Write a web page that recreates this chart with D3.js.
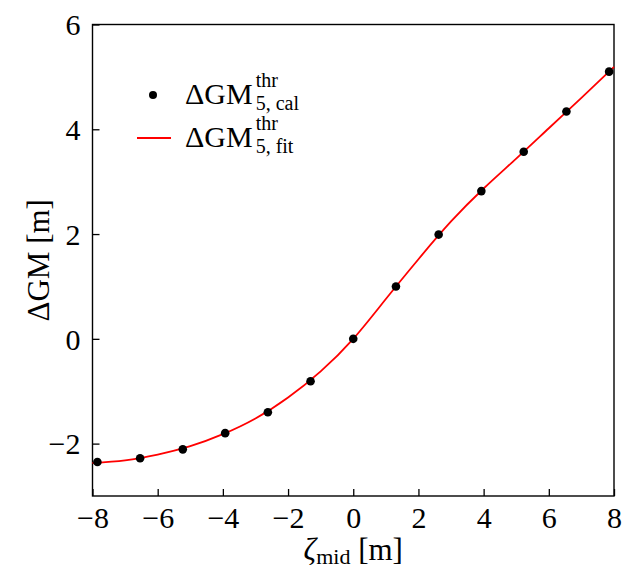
<!DOCTYPE html>
<html>
<head>
<meta charset="utf-8">
<script src="https://cdn.jsdelivr.net/npm/d3@7"></script>
<style>
  body { margin: 0; background: #fff; }
  svg { display: block; font-family: "Liberation Serif", "DejaVu Serif", serif; }
</style>
</head>
<body>
<svg id="chart" width="622" height="573"></svg>
<script>
// calculated points (zeta_mid, dGM)
const zetaCal = [-7.85, -6.54, -5.23, -3.93, -2.62, -1.31, 0, 1.31, 2.62, 3.93, 5.23, 6.54, 7.85]
const gmCal = [-2.35, -2.28, -2.11, -1.80, -1.40, -0.81, 0.0, 1.0, 1.99, 2.82, 3.57, 4.34, 5.10]

const zetaFit = [-8, -7, -6, -5, -4, -3, -2, -1, 0, 1, 2, 3, 4, 5, 6, 7, 8]
const gmFit = [-2.37, -2.32, -2.21, -2.05, -1.82, -1.52, -1.12, -0.62, 0.0, 0.76, 1.52, 2.24, 2.87, 3.44, 4.02, 4.60, 5.19]

const xTicks = [-8, -6, -4, -2, 0, 2, 4, 6, 8]
const yTicks = [-2, 0, 2, 4, 6]

const svg = d3.select('#chart')
const margin = { left: 92.5, right: 8, top: 24.5, bottom: 77 }
const W = 622, H = 573
const FONT = '"Liberation Serif", "DejaVu Serif", serif'

const x = d3.scaleLinear().domain([-8, 8]).range([margin.left, W - margin.right])
const y = d3.scaleLinear().domain([-3, 6]).range([H - margin.bottom, margin.top])

const fmt = d => (d < 0 ? '\u2212' + Math.abs(d) : '' + d)

// axes, ticks inward
const xAxis = svg.append('g')
  .attr('transform', 'translate(0,' + y(-3) + ')')
  .call(d3.axisBottom(x).tickValues(xTicks).tickSizeInner(-7).tickSizeOuter(0).tickPadding(10).tickFormat(fmt))
const yAxis = svg.append('g')
  .attr('transform', 'translate(' + x(-8) + ',0)')
  .call(d3.axisLeft(y).tickValues(yTicks).tickSizeInner(-7).tickSizeOuter(0).tickPadding(12).tickFormat(fmt))

for (const g of [xAxis, yAxis]) {
  g.attr('font-family', FONT).attr('font-size', 30)
  g.select('.domain').remove()
  g.selectAll('line').attr('stroke', '#000').attr('stroke-width', 1.3)
  g.selectAll('text').attr('fill', '#000')
}
xAxis.selectAll('text').attr('dy', '0.72em')
yAxis.selectAll('text').attr('dy', '0.34em')

// frame
svg.append('rect')
  .attr('x', x(-8)).attr('y', y(6))
  .attr('width', x(8) - x(-8)).attr('height', y(-3) - y(6))
  .attr('fill', 'none').attr('stroke', '#000').attr('stroke-width', 1.4)

// fit line
const line = d3.line().x((d, i) => x(zetaFit[i])).y(d => y(d)).curve(d3.curveNatural)
svg.append('path')
  .datum(gmFit)
  .attr('d', line)
  .attr('fill', 'none')
  .attr('stroke', '#ff0000')
  .attr('stroke-width', 1.8)

// points
svg.append('g').selectAll('circle')
  .data(gmCal)
  .join('circle')
  .attr('cx', (d, i) => x(zetaCal[i]))
  .attr('cy', d => y(d))
  .attr('r', 4.3)
  .attr('fill', '#000')

// legend
const leg = svg.append('g')
leg.append('circle').attr('cx', 153).attr('cy', 95).attr('r', 4).attr('fill', '#000')
leg.append('line').attr('x1', 137).attr('x2', 171).attr('y1', 138).attr('y2', 138)
  .attr('stroke', '#ff0000').attr('stroke-width', 1.8)

function legendLabel (yBase, sub) {
  const t = leg.append('text').attr('x', 185).attr('y', yBase).style('font-size', '30px').text('\u0394GM')
  const x0 = 185 + t.node().getComputedTextLength() + 3
  leg.append('text').attr('x', x0).attr('y', yBase - 17).style('font-size', '20px').text('thr')
  leg.append('text').attr('x', x0).attr('y', yBase + 6).style('font-size', '20px').text(sub)
}
legendLabel(104, '5, cal')
legendLabel(147, '5, fit')

// axis labels
const xl = svg.append('text')
  .attr('x', x(0)).attr('y', 560)
  .attr('text-anchor', 'middle')
  .style('font-size', '31px')
xl.append('tspan').style('font-style', 'italic').text('\u03B6')
xl.append('tspan').style('font-size', '22px').attr('dy', 4).text('mid')
xl.append('tspan').attr('dy', -4).text(' [m]')

svg.append('text')
  .attr('transform', 'translate(49,' + y(1.5) + ') rotate(-90)')
  .attr('text-anchor', 'middle')
  .style('font-size', '31px')
  .text('\u0394GM [m]')
</script>
</body>
</html>
